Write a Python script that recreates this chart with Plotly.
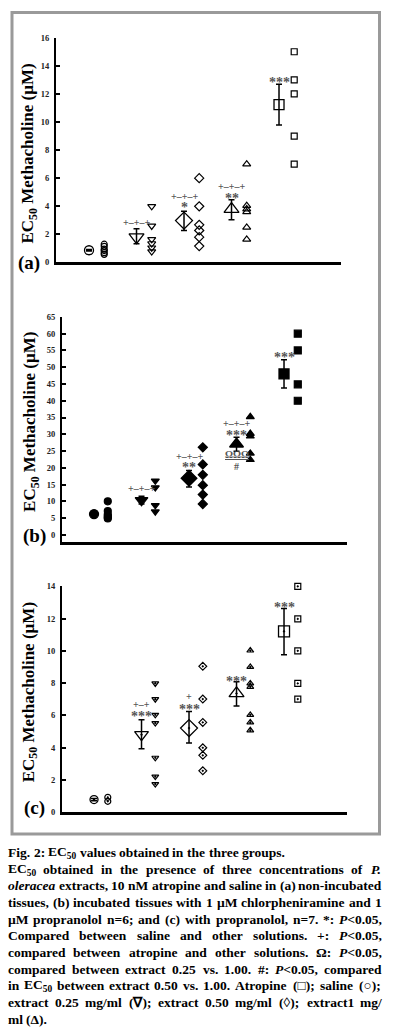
import plotly.graph_objects as go

W, H = 393, 1034

# ---------------- data ----------------
groups = ["Saline", "Extract 0.25 mg/ml", "Extract 0.50 mg/ml", "Extract 1 mg/ml", "Atropine"]
group_pos = [1, 2, 3, 4, 5]

# panel (a) non-incubated tissues
a_mean = [0.87, 1.80, 2.98, 3.80, 11.24]
a_hi = [0.92, 2.40, 3.64, 4.46, 12.68]
a_lo = [0.82, 1.34, 2.28, 3.05, 9.79]
a_pts = [
    [1.30, 1.15, 0.95, 0.85, 0.70, 0.58],
    [4.00, 2.60, 1.65, 1.35, 1.05, 0.78],
    [6.00, 4.00, 2.68, 2.28, 1.80, 1.17],
    [7.00, 4.04, 3.80, 3.60, 2.50, 1.64],
    [15.0, 13.0, 12.0, 9.0, 7.0],
]
a_sig = [(2, 2.82, "+–+–+"), (3, 4.67, "+–+–+"), (3, 4.20, "*"),
         (4, 5.38, "+–+–+"), (4, 4.84, "**"), (5, 13.07, "***")]

# panel (b) chlorpheniramine + propranolol
b_mean = [6.2, 10.3, 16.9, 27.1, 48.0]
b_hi = [6.6, 11.5, 19.2, 29.1, 52.2]
b_lo = [5.8, 9.2, 14.3, 24.9, 43.8]
b_pts = [
    [10.0, 7.1, 6.1, 5.6, 5.2, 4.9],
    [16.1, 14.1, 8.8, 6.9],
    [26.1, 21.0, 17.9, 14.8, 12.0, 9.2],
    [35.2, 30.2, 29.4, 24.3, 22.4],
    [60.0, 55.0, 44.9, 40.0],
]
b_sig = [(2, 13.8, "+–+–+"), (3, 23.3, "+–+–+"), (3, 21.2, "**"),
         (4, 33.3, "+–+–+"), (4, 30.8, "***"), (4, 23.9, "<u>ΩΩΩ</u>"),
         (4, 20.5, "#"), (5, 54.2, "***")]

# panel (c) propranolol
c_mean = [0.78, 4.80, 5.21, 7.36, 11.21]
c_hi = [0.85, 5.73, 6.24, 8.08, 12.62]
c_lo = [0.71, 3.93, 4.29, 6.58, 9.75]
c_pts = [
    [0.92, 0.67],
    [7.98, 7.00, 6.03, 5.52, 3.37, 2.20, 1.74],
    [9.04, 7.01, 5.56, 3.99, 3.52, 2.56],
    [10.02, 9.00, 7.98, 7.77, 6.03, 5.56, 5.07],
    [14.0, 11.98, 10.0, 7.98, 7.01],
]
c_sig = [(2, 6.69, "+–+"), (2, 6.18, "***"), (3, 7.16, "+"), (3, 6.63, "***"),
         (4, 8.32, "***"), (5, 12.94, "***")]

a_ticks = [0, 2, 4, 6, 8, 10, 12, 14, 16]
b_ticks = [0, 5, 10, 15, 20, 25, 30, 35, 40, 45, 50, 55, 60, 65]
c_ticks = [0, 2, 4, 6, 8, 10, 12, 14]

y_title = "<b>EC<sub>50</sub> Methacholine (µM)</b>"
panel_labels = ["(a)", "(b)", "(c)"]

caption_lines = [
    "Fig. 2: EC<sub>50</sub> values obtained in the three groups.",
    "EC<sub>50</sub> obtained in the presence of three concentrations of <i>P.</i>",
    "<i>oleracea</i> extracts, 10 nM atropine and saline in (a) non-incubated",
    "tissues, (b) incubated tissues with 1 µM chlorpheniramine and 1",
    "µM propranolol n=6; and (c) with propranolol, n=7. *: <i>P</i>&lt;0.05,",
    "Compared between saline and other solutions.  +: <i>P</i>&lt;0.05,",
    "compared between atropine and other solutions. Ω: <i>P</i>&lt;0.05,",
    "compared between extract 0.25 vs. 1.00. #: <i>P</i>&lt;0.05, compared",
    "in EC<sub>50</sub> between extract 0.50 vs. 1.00. Atropine (□); saline (○);",
    "extract 0.25 mg/ml (∇); extract 0.50 mg/ml (◊); extract1 mg/",
    "ml (Δ).",
]
caption_justify = [False, True, True, True, True, True, True, True, True, True, False]

# ---------------- helpers ----------------
def px(x):
    return x / W


def py(y):
    return 1 - y / H


TB = {' ': 250, 'a': 500, 'b': 556, 'c': 444, 'd': 556, 'e': 444, 'f': 333, 'g': 500, 'h': 556,
      'i': 278, 'j': 333, 'k': 556, 'l': 278, 'm': 833, 'n': 556, 'o': 500, 'p': 556, 'q': 556,
      'r': 444, 's': 389, 't': 333, 'u': 556, 'v': 500, 'w': 722, 'x': 500, 'y': 500, 'z': 444,
      'A': 722, 'B': 667, 'C': 722, 'D': 722, 'E': 667, 'F': 611, 'G': 778, 'H': 778, 'I': 389,
      'J': 500, 'K': 778, 'L': 667, 'M': 944, 'N': 722, 'O': 778, 'P': 611, 'Q': 778, 'R': 722,
      'S': 556, 'T': 667, 'U': 722, 'V': 722, 'W': 1000, 'X': 722, 'Y': 722, 'Z': 667,
      '.': 250, ',': 250, ':': 333, ';': 333, '(': 333, ')': 333, '/': 278, '=': 570, '<': 570,
      '*': 500, '+': 570, '#': 500, '-': 333, 'µ': 556, 'Ω': 768, '□': 760, '○': 760, '∇': 720,
      '◊': 560, 'Δ': 640}
for d in "0123456789":
    TB[d] = 500


def text_units(s):
    total, factor, i = 0.0, 1.0, 0
    while i < len(s):
        if s.startswith("<sub>", i):
            factor = 0.7; i += 5; continue
        if s.startswith("</sub>", i):
            factor = 1.0; i += 6; continue
        if s.startswith("<i>", i):
            i += 3; continue
        if s.startswith("</i>", i):
            i += 4; continue
        if s.startswith("&lt;", i):
            total += 570 * factor; i += 4; continue
        total += TB.get(s[i], 600) * factor
        i += 1
    return total / 1000.0


# ---------------- figure ----------------
fig = go.Figure()

panels = [
    dict(mean=a_mean, hi=a_hi, lo=a_lo, pts=a_pts, sig=a_sig, ticks=a_ticks,
         syms=["circle-open", "triangle-down-open", "diamond-open", "triangle-up-open", "square-open"],
         msize=[9, 13, 13, 13, 10], psize=[6, 7, 7, 7, 6],
         xd=(56, 341), yd=(33, 260), xr=[0.305, 6.305], yr=[0, 16], off=0.32,
         title=(29, 150), lab=(29, 261)),
    dict(mean=b_mean, hi=b_hi, lo=b_lo, pts=b_pts, sig=b_sig, ticks=b_ticks,
         syms=["circle", "triangle-down", "diamond", "triangle-up", "square"],
         msize=[9, 11, 12, 12, 10], psize=[7, 7, 7, 7, 7],
         xd=(62, 347), yd=(315, 542), xr=[0.326, 6.326], yr=[-2.07, 65], off=0.29,
         title=(31, 421), lab=(34, 536)),
    dict(mean=c_mean, hi=c_hi, lo=c_lo, pts=c_pts, sig=c_sig, ticks=c_ticks,
         syms=["circle-open-dot", "triangle-down-open-dot", "diamond-open-dot", "triangle-up-open-dot", "square-open-dot"],
         msize=[8, 12, 13, 13, 11], psize=[6, 6, 6, 6, 6],
         xd=(62, 347), yd=(587, 815), xr=[0.326, 6.326], yr=[0, 14], off=0.29,
         title=(30, 694), lab=(34, 811)),
]

annotations = []
for k, p in enumerate(panels, start=1):
    xa = "x" if k == 1 else f"x{k}"
    ya = "y" if k == 1 else f"y{k}"
    for g in range(5):
        # individual points
        fig.add_trace(go.Scatter(
            x=[group_pos[g] + p["off"]] * len(p["pts"][g]), y=p["pts"][g],
            mode="markers", xaxis=xa, yaxis=ya, hoverinfo="skip", cliponaxis=False,
            marker=dict(symbol=p["syms"][g], size=p["psize"][g], color="black",
                        line=dict(color="black", width=1.2)),
        ))
        # mean +/- error
        fig.add_trace(go.Scatter(
            x=[group_pos[g]], y=[p["mean"][g]], mode="markers", xaxis=xa, yaxis=ya,
            cliponaxis=False,
            error_y=dict(type="data", symmetric=False,
                         array=[p["hi"][g] - p["mean"][g]],
                         arrayminus=[p["mean"][g] - p["lo"][g]],
                         color="black", thickness=1.5, width=3),
            marker=dict(symbol=p["syms"][g], size=p["msize"][g], color="black",
                        line=dict(color="black", width=1.3)),
        ))
    for (g, v, t) in p["sig"]:
        star = "*" in t
        annotations.append(dict(
            x=g, y=v, xref=xa, yref=ya, text="<b>" + t + "</b>", showarrow=False,
            xanchor="center", yanchor="middle", yshift=-4 if star else 0,
            font=dict(family="Liberation Serif", size=14 if star else 10, color="#555"),
        ))
    # axes
    fig.update_layout({
        ("xaxis" if k == 1 else f"xaxis{k}"): dict(
            domain=[px(p["xd"][0]), px(p["xd"][1])], range=p["xr"], anchor=ya,
            showline=True, linecolor="black", linewidth=2.5, showgrid=False,
            zeroline=False, showticklabels=False, ticks=""),
        ("yaxis" if k == 1 else f"yaxis{k}"): dict(
            domain=[py(p["yd"][1]), py(p["yd"][0])], range=p["yr"], anchor=xa,
            showline=True, linecolor="black", linewidth=2, showgrid=False,
            zeroline=False, tickmode="array", tickvals=p["ticks"],
            ticktext=["<b>%d</b>" % t for t in p["ticks"]],
            ticks="inside", ticklen=4, tickwidth=1.5, tickcolor="black",
            ticklabelstandoff=3,
            tickfont=dict(family="Liberation Serif", size=8.5, color="#222")),
    })
    annotations.append(dict(
        x=px(p["title"][0]), y=py(p["title"][1]), xref="paper", yref="paper",
        text=y_title, textangle=-90, showarrow=False, xanchor="center", yanchor="middle",
        font=dict(family="Liberation Serif", size=17, color="black")))
    annotations.append(dict(
        x=px(p["lab"][0]), y=py(p["lab"][1]), xref="paper", yref="paper",
        text="<b>" + panel_labels[k - 1] + "</b>", showarrow=False,
        xanchor="center", yanchor="middle",
        font=dict(family="Liberation Serif", size=19, color="black")))

# caption, word by word (justified), each word centred on its computed slot
CAP_SIZE = 13.5
left, right = 8, 382
for i, line in enumerate(caption_lines):
    yline = 856 + 16.8 * i
    words = line.split()
    widths = [text_units(w) * CAP_SIZE for w in words]
    space = TB[' '] / 1000 * CAP_SIZE
    if caption_justify[i] and len(words) > 1:
        gap = (right - left - sum(widths)) / (len(words) - 1)
    else:
        gap = space
    xcur = left
    for w, wd in zip(words, widths):
        annotations.append(dict(
            x=px(xcur + wd / 2), y=py(yline), xref="paper", yref="paper", text="<b>" + w + "</b>",
            showarrow=False, xanchor="center", yanchor="middle", borderpad=0, borderwidth=0,
            font=dict(family="Liberation Serif", size=CAP_SIZE, color="black")))
        xcur += wd + gap

fig.update_layout(
    width=W, height=H, margin=dict(l=0, r=0, t=0, b=0),
    paper_bgcolor="white", plot_bgcolor="white", showlegend=False,
    annotations=annotations,
    shapes=[dict(type="rect", xref="paper", yref="paper",
                 x0=px(12), x1=px(379.5), y0=py(837), y1=py(7.5),
                 line=dict(color="#9a9a9a", width=3))],
)

fig.write_html("out.html", config={"displayModeBar": False},
               post_script="document.body.style.margin='0';document.body.style.overflow='hidden';")
